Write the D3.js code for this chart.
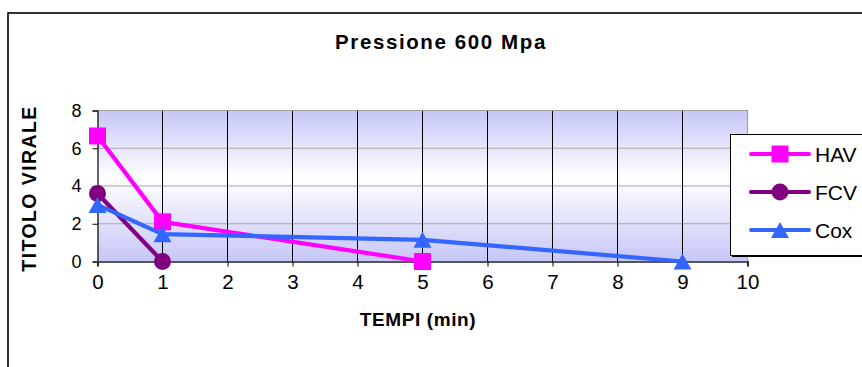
<!DOCTYPE html>
<html>
<head>
<meta charset="utf-8">
<script src="https://cdn.jsdelivr.net/npm/d3@7"></script>
<style>
  html, body { margin: 0; padding: 0; background: #fff; }
  svg { display: block; font-family: "Liberation Sans", Arial, sans-serif; }
</style>
</head>
<body>
<svg id="chart" width="862" height="367"></svg>
<script>
// Viral titre over time at 600 MPa
const seriesNames = ["HAV", "FCV", "Cox"];
const seriesColors = ["#FF00FF", "#800080", "#3366FF"];
const seriesShapes = ["square", "circle", "triangle"];

const havTime = [0, 1, 5];
const havTiter = [6.65, 2.1, 0];
const fcvTime = [0, 1];
const fcvTiter = [3.6, 0];
const coxTime = [0, 1, 5, 9];
const coxTiter = [3.0, 1.45, 1.15, 0];

const xTicks = [0, 1, 2, 3, 4, 5, 6, 7, 8, 9, 10];
const yTicks = [0, 2, 4, 6, 8];

const chartTitle = "Pressione 600 Mpa";
const xTitle = "TEMPI (min)";
const yTitle = "TITOLO VIRALE";

const series = [
  { name: seriesNames[0], color: seriesColors[0], shape: seriesShapes[0], x: havTime, y: havTiter },
  { name: seriesNames[1], color: seriesColors[1], shape: seriesShapes[1], x: fcvTime, y: fcvTiter },
  { name: seriesNames[2], color: seriesColors[2], shape: seriesShapes[2], x: coxTime, y: coxTiter }
];

const svg = d3.select("#chart");

// plot area
const plot = { left: 97.5, right: 747.5, top: 110.5, bottom: 261.5 };
const x = d3.scaleLinear().domain([0, 10]).range([plot.left, plot.right]);
const y = d3.scaleLinear().domain([0, 8]).range([plot.bottom, plot.top]);

// outer frame
svg.append("rect")
  .attr("x", 8).attr("y", 13).attr("width", 920).attr("height", 420)
  .attr("fill", "none").attr("stroke", "#000").attr("stroke-width", 1.6);

// background gradient
const defs = svg.append("defs");
const grad = defs.append("linearGradient").attr("id", "bg").attr("x1", 0).attr("y1", 0).attr("x2", 0).attr("y2", 1);
grad.append("stop").attr("offset", "0%").attr("stop-color", "#C6C6F8");
grad.append("stop").attr("offset", "45%").attr("stop-color", "#FFFFFF");
grad.append("stop").attr("offset", "100%").attr("stop-color", "#C6C6F8");

svg.append("rect")
  .attr("x", plot.left).attr("y", plot.top)
  .attr("width", plot.right - plot.left).attr("height", plot.bottom - plot.top)
  .attr("fill", "url(#bg)");

// horizontal gridlines
svg.append("g").selectAll("line").data(yTicks.filter(d => d > 0 && d < 8)).join("line")
  .attr("x1", plot.left).attr("x2", plot.right)
  .attr("y1", d => y(d)).attr("y2", d => y(d))
  .attr("stroke", "#A8A8A8").attr("stroke-width", 1);

// vertical gridlines
svg.append("g").selectAll("line").data(xTicks.filter(d => d > 0 && d < 10)).join("line")
  .attr("x1", d => x(d)).attr("x2", d => x(d))
  .attr("y1", plot.top).attr("y2", plot.bottom)
  .attr("stroke", "#000").attr("stroke-width", 1);

// plot border (top and right)
svg.append("path")
  .attr("d", `M${plot.left},${plot.top}H${plot.right}V${plot.bottom}`)
  .attr("fill", "none").attr("stroke", "#A0A0A0").attr("stroke-width", 1.2);

// y axis
const yAxis = svg.append("g")
  .attr("transform", `translate(${plot.left},0)`)
  .call(d3.axisLeft(y).tickValues(yTicks).tickSize(5).tickPadding(11).tickFormat(d3.format("d")));
yAxis.select(".domain").attr("stroke", "#000").attr("stroke-width", 1.2);
yAxis.selectAll(".tick line").attr("stroke", "#000");
yAxis.selectAll(".tick text")
  .attr("font-family", "Liberation Sans, Arial, sans-serif")
  .attr("font-size", 18).attr("fill", "#000");

// x axis
const xAxis = svg.append("g")
  .attr("transform", `translate(0,${plot.bottom})`)
  .call(d3.axisBottom(x).tickValues(xTicks).tickSize(5).tickPadding(8).tickFormat(d3.format("d")));
xAxis.select(".domain").attr("stroke", "#555").attr("stroke-width", 2);
xAxis.selectAll(".tick line").attr("stroke", "#000");
xAxis.selectAll(".tick text")
  .attr("font-family", "Liberation Sans, Arial, sans-serif")
  .attr("font-size", 20.5).attr("fill", "#000");

// marker symbols
function drawMarker(g, shape, color, cx, cy) {
  if (shape === "square") {
    g.append("rect").attr("x", cx - 8.5).attr("y", cy - 8.5).attr("width", 17).attr("height", 17).attr("fill", color);
  } else if (shape === "circle") {
    g.append("circle").attr("cx", cx).attr("cy", cy).attr("r", 8.5).attr("fill", color);
  } else {
    g.append("path")
      .attr("d", `M${cx},${cy - 8}L${cx + 9},${cy + 8}L${cx - 9},${cy + 8}Z`)
      .attr("fill", color);
  }
}

// series lines and markers
const line = d3.line().x(d => x(d[0])).y(d => y(d[1]));
series.forEach(s => {
  const pts = s.x.map((t, i) => [t, s.y[i]]);
  const g = svg.append("g");
  g.append("path").attr("d", line(pts))
    .attr("fill", "none").attr("stroke", s.color).attr("stroke-width", 4.2)
    .attr("stroke-linejoin", "round");
  pts.forEach(p => drawMarker(g, s.shape, s.color, x(p[0]), y(p[1])));
});

// titles
svg.append("text")
  .attr("x", 441).attr("y", 49).attr("text-anchor", "middle")
  .attr("font-size", 20.5).attr("font-weight", "bold").attr("letter-spacing", 1.6)
  .text(chartTitle);

svg.append("text")
  .attr("x", 418).attr("y", 326).attr("text-anchor", "middle")
  .attr("font-size", 19).attr("font-weight", "bold").attr("letter-spacing", 0.6)
  .text(xTitle);

svg.append("text")
  .attr("transform", "translate(36,188.5) rotate(-90)")
  .attr("text-anchor", "middle")
  .attr("font-size", 19.5).attr("font-weight", "bold").attr("letter-spacing", 1.4)
  .text(yTitle);

// legend
const legend = svg.append("g");
legend.append("rect")
  .attr("x", 732).attr("y", 136).attr("width", 200).attr("height", 121)
  .attr("fill", "#000");
legend.append("rect")
  .attr("x", 730.5).attr("y", 134.5).attr("width", 200).attr("height", 121)
  .attr("fill", "#fff").attr("stroke", "#000").attr("stroke-width", 1);

const legendY = [154, 192, 230];
series.forEach((s, i) => {
  const ly = legendY[i];
  legend.append("line")
    .attr("x1", 751).attr("x2", 809).attr("y1", ly).attr("y2", ly)
    .attr("stroke", s.color).attr("stroke-width", 4).attr("stroke-linecap", "round");
  drawMarker(legend, s.shape, s.color, 780, ly);
  legend.append("text")
    .attr("x", 815).attr("y", ly + 7.5)
    .attr("font-size", 21).attr("fill", "#000")
    .text(s.name);
});
</script>
</body>
</html>
